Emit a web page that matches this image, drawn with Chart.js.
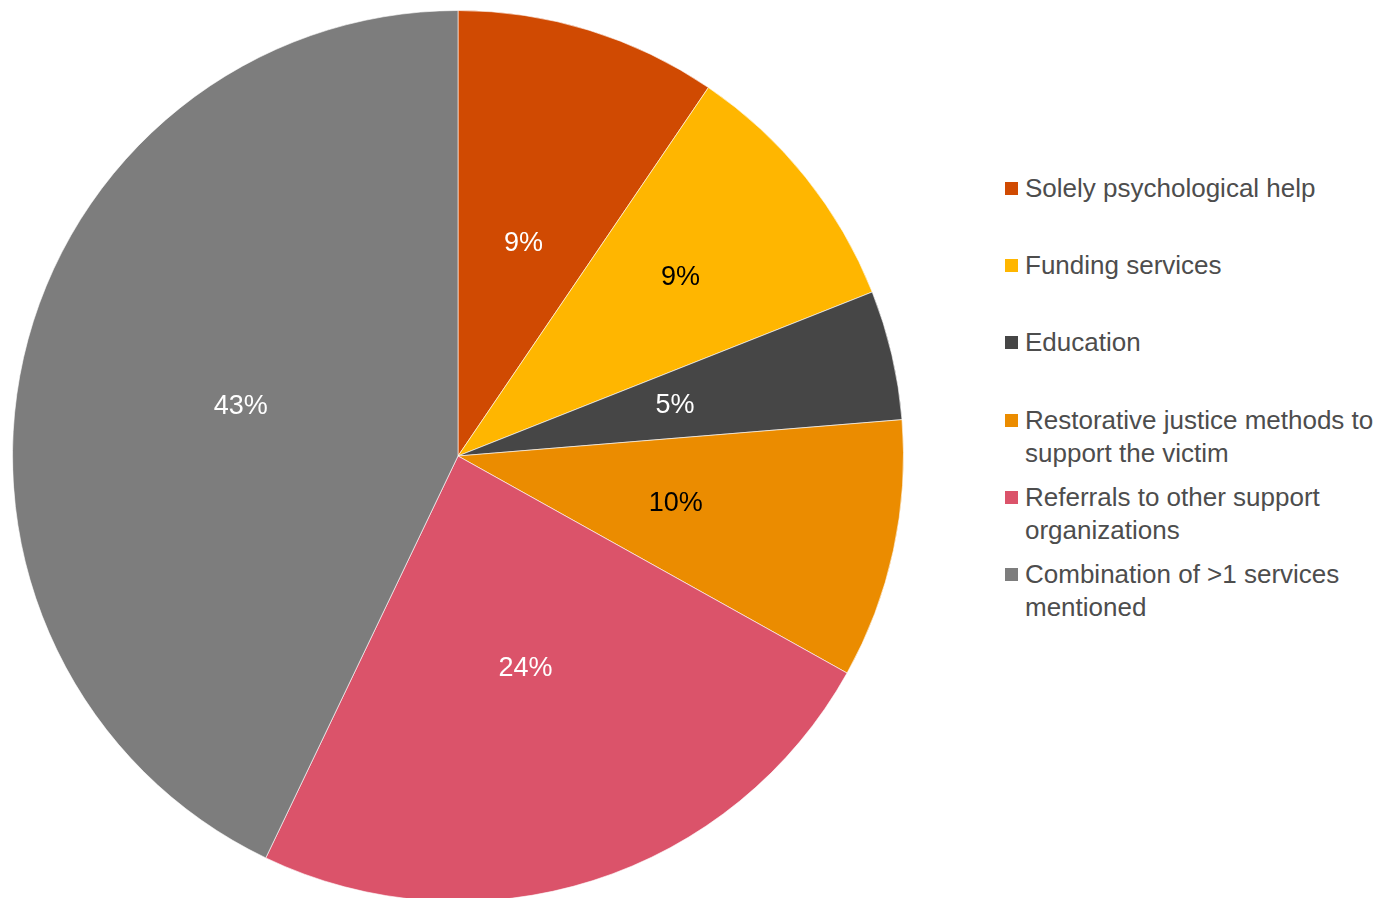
<!DOCTYPE html>
<html>
<head>
<meta charset="utf-8">
<script src="https://cdn.jsdelivr.net/npm/chart.js@4/dist/chart.umd.min.js"></script>
<style>
  html, body { margin: 0; padding: 0; background: #fff; overflow: hidden; }
  #wrap { position: absolute; left: 0; top: 0; width: 916px; height: 912px; }
  #legend { position: absolute; left: 1005px; top: 172px; font-family: "Liberation Sans", Arial, sans-serif; font-size: 26px; color: #4d4d4d; }
  .item { position: absolute; left: 0; white-space: nowrap; line-height: 33px; }
  .box { position: absolute; left: 0; top: 10px; width: 13px; height: 13px; }
  .txt { position: absolute; left: 20px; top: 0; }
</style>
</head>
<body>
<div id="wrap"><canvas id="pieChart"></canvas></div>
<div id="legend"></div>
<script>
// slice shares read from the slice edges, and the percent text printed on the slices
const categories = [
  ['Solely psychological help'],
  ['Funding services'],
  ['Education'],
  ['Restorative justice methods to', 'support the victim'],
  ['Referrals to other support', 'organizations'],
  ['Combination of >1 services', 'mentioned']
];
const shares = [9.5, 9.5, 4.7, 9.4, 24.0, 42.9];
const pctLabels = ['9%', '9%', '5%', '10%', '24%', '43%'];
const colors = ['#D04A02', '#FFB600', '#464646', '#EB8C00', '#DB536A', '#7D7D7D'];

const textColors = ['#fff', '#000', '#fff', '#000', '#fff', '#fff'];
const labelRadius = [0.5, 0.64, 0.5, 0.5, 0.5, 0.5];

const pieLabels = {
  id: 'pieLabels',
  afterDatasetsDraw(chart) {
    const ctx = chart.ctx;
    const arcs = chart.getDatasetMeta(0).data;
    ctx.save();
    ctx.font = '27px "Liberation Sans", Arial, sans-serif';
    ctx.textAlign = 'center';
    ctx.textBaseline = 'middle';
    arcs.forEach(function(arc, i) {
      const p = arc.getProps(['x', 'y', 'startAngle', 'endAngle', 'outerRadius'], true);
      const mid = (p.startAngle + p.endAngle) / 2;
      const r = p.outerRadius * labelRadius[i];
      ctx.fillStyle = textColors[i];
      ctx.fillText(pctLabels[i], p.x + Math.cos(mid) * r, p.y + Math.sin(mid) * r);
    });
    ctx.restore();
  }
};

const pieChart = new Chart(document.getElementById('pieChart'), {
  type: 'pie',
  data: {
    labels: categories,
    datasets: [{
      data: shares,
      backgroundColor: colors,
      borderColor: 'rgba(255,255,255,0.6)',
      borderWidth: 1
    }]
  },
  options: {
    responsive: true,
    maintainAspectRatio: false,
    animation: false,
    layout: { padding: { top: 10, bottom: 10, left: 11, right: 11 } },
    plugins: {
      legend: { display: false },
      tooltip: { enabled: false }
    }
  },
  plugins: [pieLabels]
});

// legend on the right
const legend = document.getElementById('legend');
categories.forEach(function(lines, i) {
  const item = document.createElement('div');
  item.className = 'item';
  item.style.top = (i * 77.2) + 'px';
  const box = document.createElement('div');
  box.className = 'box';
  box.style.background = colors[i];
  const txt = document.createElement('div');
  txt.className = 'txt';
  txt.innerHTML = lines.join('<br>');
  item.appendChild(box);
  item.appendChild(txt);
  legend.appendChild(item);
});
</script>
</body>
</html>
